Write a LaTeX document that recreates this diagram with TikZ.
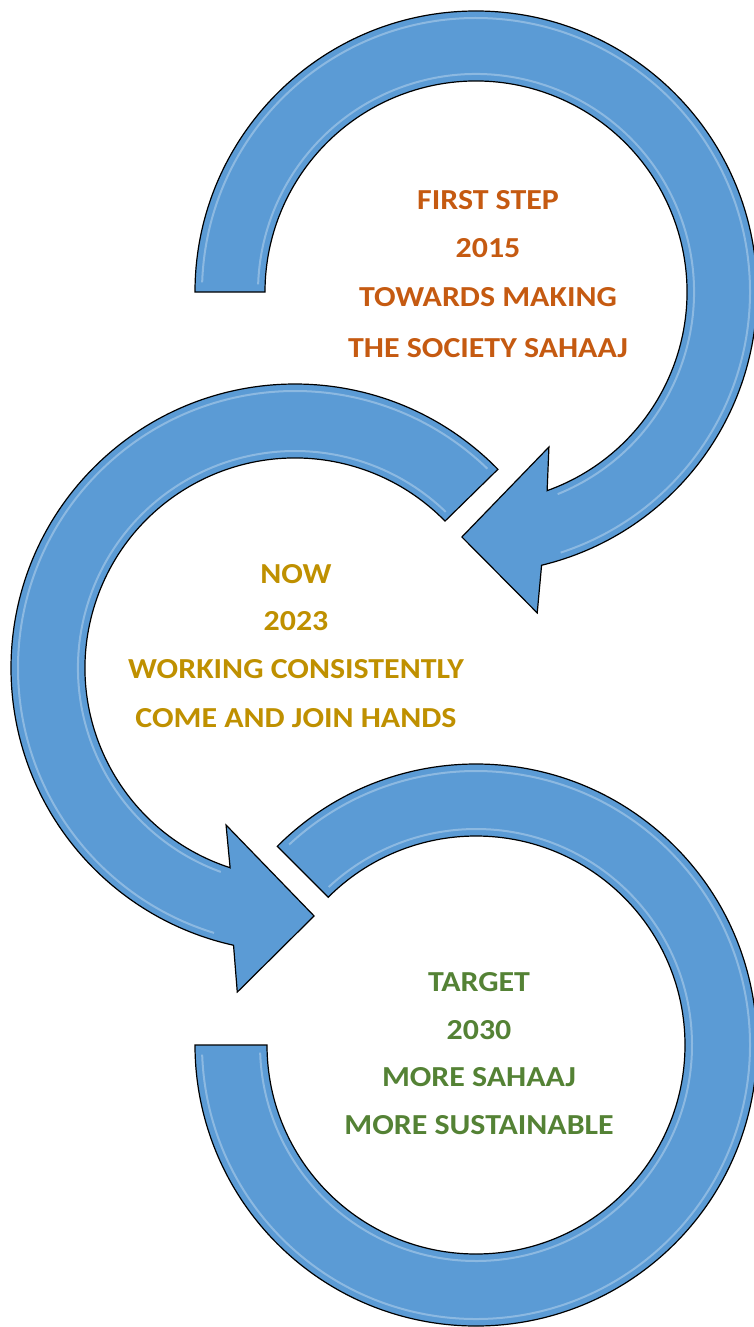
\documentclass[tikz,border=0pt]{standalone}
\usepackage{fontspec}
\setmainfont{Carlito}[FakeStretch=1.1]
\usetikzlibrary{calc}

\definecolor{ringblue}{HTML}{5B9BD5}
\definecolor{steporange}{HTML}{C55A11}
\definecolor{nowgold}{HTML}{BF9000}
\definecolor{targetgreen}{HTML}{548235}

\begin{document}
\begin{tikzpicture}[
      x=1pt, y=-1pt,
      ring/.style={
                fill=ringblue,
                draw=black,
                line width=1.2pt,
                line join=miter
                },
      bevel/.style={
                draw=white,
                line width=2pt,
                opacity=0.3
                },
      every node/.style={font=\bfseries\fontsize{29}{34}\selectfont, anchor=base, inner sep=0pt},
      steptext/.style={text=steporange},
      nowtext/.style={text=nowgold},
      targettext/.style={text=targetgreen}
]
\useasboundingbox (0,0) rectangle (754,1327);
\clip (0,0) rectangle (754,1327);

\coordinate (top) at (476,292);
\coordinate (mid) at (295,668);
\coordinate (bot) at (476,1045);

% first arrow, 2015
\draw[ring] ($ (top) + (180:281) $) arc[start angle=180, end angle=436.5, radius=281]
     -- ($ (top) + (79.2:326.7) $) -- ($ (top) + (93.3:245.4) $) -- ($ (top) + (64.8:171.3) $)
     -- ($ (top) + (70.3:211) $) arc[start angle=70.3, end angle=-180, radius=211] -- cycle;
\draw[bevel] ($ (top) + (182:274) $) arc[start angle=182, end angle=432, radius=274];
\draw[bevel] ($ (top) + (68:218) $) arc[start angle=68, end angle=-178, radius=218];

% second arrow, 2023
\draw[ring] ($ (mid) + (-44.4:284) $) arc[start angle=-44.4, end angle=-257.5, radius=284]
     -- ($ (mid) + (100.1:329.2) $) -- ($ (mid) + (85.6:248.7) $) -- ($ (mid) + (113.7:171.5) $)
     -- ($ (mid) + (108:210) $) arc[start angle=-252, end angle=-44.4, radius=210] -- cycle;
\draw[bevel] ($ (mid) + (-46:277) $) arc[start angle=-46, end angle=-253, radius=277];
\draw[bevel] ($ (mid) + (-250:217) $) arc[start angle=-250, end angle=-46, radius=217];

% third ring, 2030
\draw[ring] ($ (bot) + (225:281) $) arc[start angle=225, end angle=540, radius=281]
     -- ($ (bot) + (180:209) $) arc[start angle=540, end angle=225, radius=209] -- cycle;
\draw[bevel] ($ (bot) + (227:274) $) arc[start angle=227, end angle=538, radius=274];
\draw[bevel] ($ (bot) + (538:216) $) arc[start angle=538, end angle=227, radius=216];

\node[steptext] (first) at ($ (top) + (12,-83) $) {FIRST STEP};
\node[steptext] (y2015) at ($ (top) + (12,-35) $) {2015};
\node[steptext] (towards) at ($ (top) + (12,14) $) {TOWARDS MAKING};
\node[steptext] (society) at ($ (top) + (12,65) $) {THE SOCIETY SAHAAJ};

\node[nowtext] (now) at ($ (mid) + (1,-85) $) {NOW};
\node[nowtext] (y2023) at ($ (mid) + (1,-38) $) {2023};
\node[nowtext] (working) at ($ (mid) + (1,10) $) {WORKING CONSISTENTLY};
\node[nowtext] (come) at ($ (mid) + (1,59) $) {COME AND JOIN HANDS};

\node[targettext] (target) at ($ (bot) + (3,-54) $) {TARGET};
\node[targettext] (y2030) at ($ (bot) + (3,-6) $) {2030};
\node[targettext] (moresahaaj) at ($ (bot) + (3,41) $) {MORE SAHAAJ};
\node[targettext] (sustain) at ($ (bot) + (3,89) $) {MORE SUSTAINABLE};

\end{tikzpicture}
\end{document}
